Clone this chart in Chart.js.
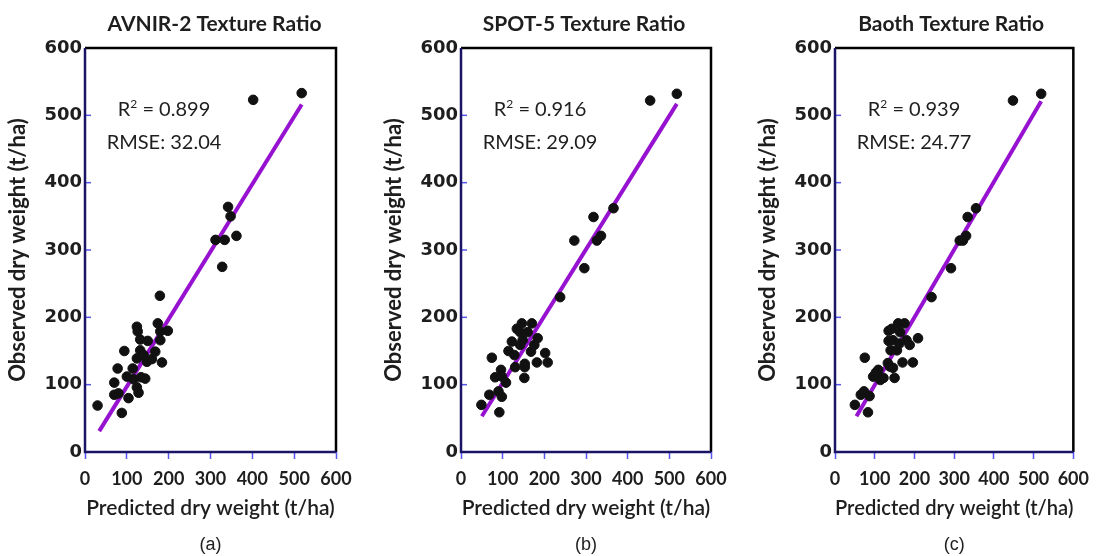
<!DOCTYPE html>
<html lang="en">
<head>
<meta charset="UTF-8">
<title>Texture ratio models: observed vs predicted dry weight</title>
<script src="https://cdn.jsdelivr.net/npm/chart.js@4.4.0/dist/chart.umd.min.js"></script>
<style>
  body { margin: 0; background: #ffffff; }
  .figure { position: relative; width: 1098px; height: 556px; }
  .panel { position: absolute; top: 0; height: 556px; }
</style>
</head>
<body>
<div class="figure">
  <div class="panel" style="left:0;width:366px"><canvas id="chartA"></canvas></div>
  <div class="panel" style="left:376px;width:366px"><canvas id="chartB"></canvas></div>
  <div class="panel" style="left:750px;width:348px"><canvas id="chartC"></canvas></div>
</div>
<script>
// axis ticks (t/ha)
const axisTicks = [0, 100, 200, 300, 400, 500, 600];

// (a) AVNIR-2 texture ratio
const predictedA = [30, 70, 70, 78, 80, 88, 94, 100, 104, 114, 116, 124, 124, 124, 126, 128, 132, 132, 134, 140, 144, 148, 150, 160, 168, 174, 179, 180, 180, 184, 198, 312, 328, 334, 342, 348, 362, 402, 518];
const observedA  = [69, 103, 85, 124, 87, 58, 150, 112, 80, 124, 108, 186, 96, 139, 179, 88, 167, 151, 111, 144, 109, 134, 165, 138, 149, 191, 232, 179, 166, 133, 180, 315, 275, 315, 364, 350, 321, 523, 533];
const fitXA = [34, 518];
const fitYA = [31, 516];

// (b) SPOT-5 texture ratio
const predictedB = [49, 68, 74, 82, 90, 92, 96, 98, 98, 108, 114, 122, 128, 130, 134, 142, 142, 146, 148, 152, 153, 153, 160, 168, 170, 176, 182, 184, 202, 208, 238, 272, 296, 318, 326, 336, 366, 454, 518];
const observedB  = [70, 85, 140, 111, 90, 59, 122, 112, 82, 103, 150, 164, 144, 126, 183, 178, 159, 191, 166, 110, 131, 126, 178, 149, 191, 159, 133, 169, 147, 133, 230, 314, 273, 349, 314, 321, 362, 522, 532];
const fitXB = [50, 518];
const fitYB = [53, 517];

// (c) Baoth texture ratio
const predictedC = [50, 65, 73, 75, 83, 87, 96, 103, 109, 114, 122, 133, 135, 135, 138, 140, 143, 146, 146, 150, 156, 159, 162, 164, 170, 175, 180, 188, 196, 209, 243, 292, 314, 322, 330, 334, 355, 448, 519];
const observedC  = [70, 85, 90, 140, 59, 83, 112, 118, 122, 107, 110, 132, 180, 165, 127, 151, 183, 125, 166, 110, 151, 191, 161, 178, 133, 191, 166, 159, 133, 169, 230, 273, 314, 314, 321, 349, 362, 522, 532];
const fitXC = [54, 519];
const fitYC = [53, 521];

const textColor = '#1e1e1e';
const axisColor = '#1a1466';
const tickColor = '#5656f0';
const lineColor = '#9612d0';

function pairs(xs, ys) {
  return xs.map((x, i) => ({ x: x, y: ys[i] }));
}

// frame, inside y ticks, panel title, stats text, caption
const panelDecor = {
  id: 'panelDecor',
  afterDatasetsDraw(chart, args, opts) {
    const ctx = chart.ctx;
    const a = chart.chartArea;
    const ys = chart.scales.y;
    ctx.save();
    ctx.lineWidth = 1.5;
    ctx.strokeStyle = tickColor;
    axisTicks.forEach(v => {
      const py = ys.getPixelForValue(v);
      ctx.beginPath();
      ctx.moveTo(a.left, py);
      ctx.lineTo(a.left + 6, py);
      ctx.stroke();
    });
    ctx.lineWidth = 2.5;
    ctx.strokeStyle = '#000000';
    ctx.beginPath();
    ctx.moveTo(a.left, a.top);
    ctx.lineTo(a.right, a.top);
    ctx.lineTo(a.right, a.bottom);
    ctx.stroke();
    ctx.strokeStyle = axisColor;
    ctx.beginPath();
    ctx.moveTo(a.left, a.top);
    ctx.lineTo(a.left, a.bottom);
    ctx.lineTo(a.right, a.bottom);
    ctx.stroke();

    const cx = (a.left + a.right) / 2;
    ctx.fillStyle = textColor;
    ctx.textAlign = 'center';
    ctx.textBaseline = 'middle';
    ctx.font = 'bold 21px Lato';
    ctx.fillText(opts.title, cx + opts.titleShift, 24);

    // R² and RMSE
    const sx = a.left + 79;
    ctx.font = '20px Lato';
    const head = 'R';
    const tail = ' = ' + opts.r2;
    const wHead = ctx.measureText(head).width;
    const wTail = ctx.measureText(tail).width;
    ctx.font = '12px Lato';
    const wSup = ctx.measureText('2').width;
    let x0 = sx - (wHead + wSup + wTail) / 2;
    ctx.textAlign = 'left';
    ctx.font = '20px Lato';
    ctx.fillText(head, x0, 110);
    ctx.font = '12px Lato';
    ctx.fillText('2', x0 + wHead, 104);
    ctx.font = '20px Lato';
    ctx.fillText(tail, x0 + wHead + wSup, 110);
    ctx.textAlign = 'center';
    ctx.fillText('RMSE: ' + opts.rmse, sx, 143);

    ctx.font = '18px "Liberation Sans"';
    ctx.fillText(opts.caption, cx, 545);
    ctx.restore();
  }
};

function makePanel(id, xs, ys, fx, fy, decor, rightPad) {
  return new Chart(document.getElementById(id), {
    type: 'scatter',
    data: {
      datasets: [
        {
          data: pairs(xs, ys),
          backgroundColor: '#111111',
          borderColor: '#111111',
          pointRadius: 4.8,
          pointHoverRadius: 4.8,
          order: 1
        },
        {
          type: 'line',
          data: pairs(fx, fy),
          borderColor: lineColor,
          borderWidth: 4,
          pointRadius: 0,
          fill: false,
          order: 2
        }
      ]
    },
    options: {
      responsive: true,
      maintainAspectRatio: false,
      animation: false,
      layout: { padding: { top: 48, right: rightPad, left: 0, bottom: 0 } },
      plugins: {
        legend: { display: false },
        tooltip: { enabled: false },
        panelDecor: decor
      },
      scales: {
        x: {
          type: 'linear',
          min: 0,
          max: 600,
          afterBuildTicks: s => { s.ticks = axisTicks.map(v => ({ value: v })); },
          ticks: {
            color: textColor,
            font: { family: 'Lato', size: 18, weight: 'bold' },
            padding: 9,
            maxRotation: 0,
            autoSkip: false
          },
          grid: { drawOnChartArea: false, drawTicks: true, tickLength: 7, tickColor: tickColor, tickWidth: 1.5 },
          border: { display: false },
          title: {
            display: true,
            text: 'Predicted dry weight (t/ha)',
            color: textColor,
            font: { family: 'Lato', size: 21, weight: '600' },
            padding: { top: 0, bottom: 35 }
          },
          afterFit: s => { s.height = 104; }
        },
        y: {
          type: 'linear',
          min: 0,
          max: 600,
          afterBuildTicks: s => { s.ticks = axisTicks.map(v => ({ value: v })); },
          ticks: {
            color: textColor,
            font: { family: 'DejaVu Sans', size: 18, weight: 'bold' },
            padding: 3
          },
          grid: { drawOnChartArea: false, drawTicks: false },
          border: { display: false },
          title: {
            display: true,
            text: 'Observed dry weight (t/ha)',
            color: textColor,
            font: { family: 'Lato', size: 22, weight: 'bold' },
            padding: { top: 5, bottom: 0 }
          },
          afterFit: s => { s.width = 85; }
        }
      }
    },
    plugins: [panelDecor]
  });
}

makePanel('chartA', predictedA, observedA, fitXA, fitYA,
  { title: 'AVNIR-2 Texture Ratio', titleShift: 4, r2: '0.899', rmse: '32.04', caption: '(a)' }, 30);
makePanel('chartB', predictedB, observedB, fitXB, fitYB,
  { title: 'SPOT-5 Texture Ratio', titleShift: -2, r2: '0.916', rmse: '29.09', caption: '(b)' }, 31);
makePanel('chartC', predictedC, observedC, fitXC, fitYC,
  { title: 'Baoth Texture Ratio', titleShift: -3, r2: '0.939', rmse: '24.77', caption: '(c)' }, 17);
</script>
</body>
</html>
